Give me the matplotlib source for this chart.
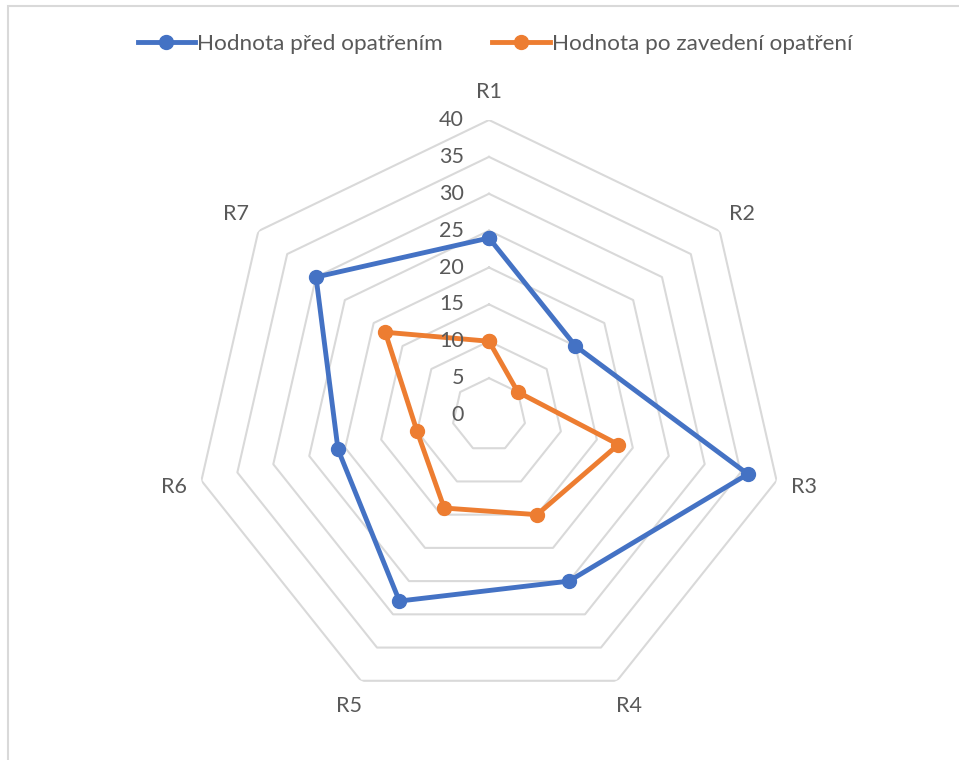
import numpy as np
import matplotlib.pyplot as plt
from matplotlib.patches import Rectangle

plt.rcParams['font.family'] = ['Lato', 'DejaVu Sans']

categories = ['R1', 'R2', 'R3', 'R4', 'R5', 'R6', 'R7']
before = [24, 15, 36, 25, 28, 21, 30]
after = [10, 5, 18, 15, 14, 10, 18]
levels = [0, 5, 10, 15, 20, 25, 30, 35, 40]
series_names = ['Hodnota před opatřením', 'Hodnota po zavedení opatření']

blue = '#4472C4'
orange = '#ED7D31'
grid_c = '#D9D9D9'
text_c = '#595959'

W, H = 959, 760
fig = plt.figure(figsize=(W / 100, H / 100), dpi=100)

# chart centre and radius in pixels
cx, cy, rad = 489, 415, 295
ax = fig.add_axes([(cx - rad) / W, (H - cy - rad) / H, 2 * rad / W, 2 * rad / H],
                  projection='polar')
ax.set_theta_offset(np.pi / 2)
ax.set_theta_direction(-1)
ax.set_ylim(0, 40)
ax.axis('off')

n = len(categories)
theta = np.linspace(0, 2 * np.pi, n, endpoint=False)
tc = np.append(theta, theta[0])

# polygon grid
for lv in levels[1:]:
    ax.plot(tc, [lv] * (n + 1), color=grid_c, lw=1.5, zorder=1)

for vals, col, name in [(before, blue, series_names[0]), (after, orange, series_names[1])]:
    v = np.append(vals, vals[0])
    ax.plot(tc, v, color=col, lw=3.5, marker='o', markersize=10, label=name, zorder=3)

# value labels along R1 axis
for lv in levels:
    ax.annotate(str(lv), xy=(0, lv), xytext=(-18, 0), textcoords='offset points',
                ha='right', va='center', fontsize=15.5, color=text_c, annotation_clip=False)

# category labels
for t, lab in zip(theta, categories):
    ax.text(t, 43.8, lab, ha='center', va='center', fontsize=15.5, color=text_c, clip_on=False)

fig.legend(loc='center', bbox_to_anchor=(495 / W, 1 - 44 / H), ncol=2, frameon=False,
           fontsize=16.2, labelcolor=text_c, handlelength=2.55, handletextpad=0.1,
           columnspacing=2.2)

fig.patches.append(Rectangle((8 / W, -0.1), 1.2, (H - 6) / H + 0.1, transform=fig.transFigure,
                             fill=False, edgecolor=grid_c, lw=1.5))

fig.savefig('out.png', dpi=100)
